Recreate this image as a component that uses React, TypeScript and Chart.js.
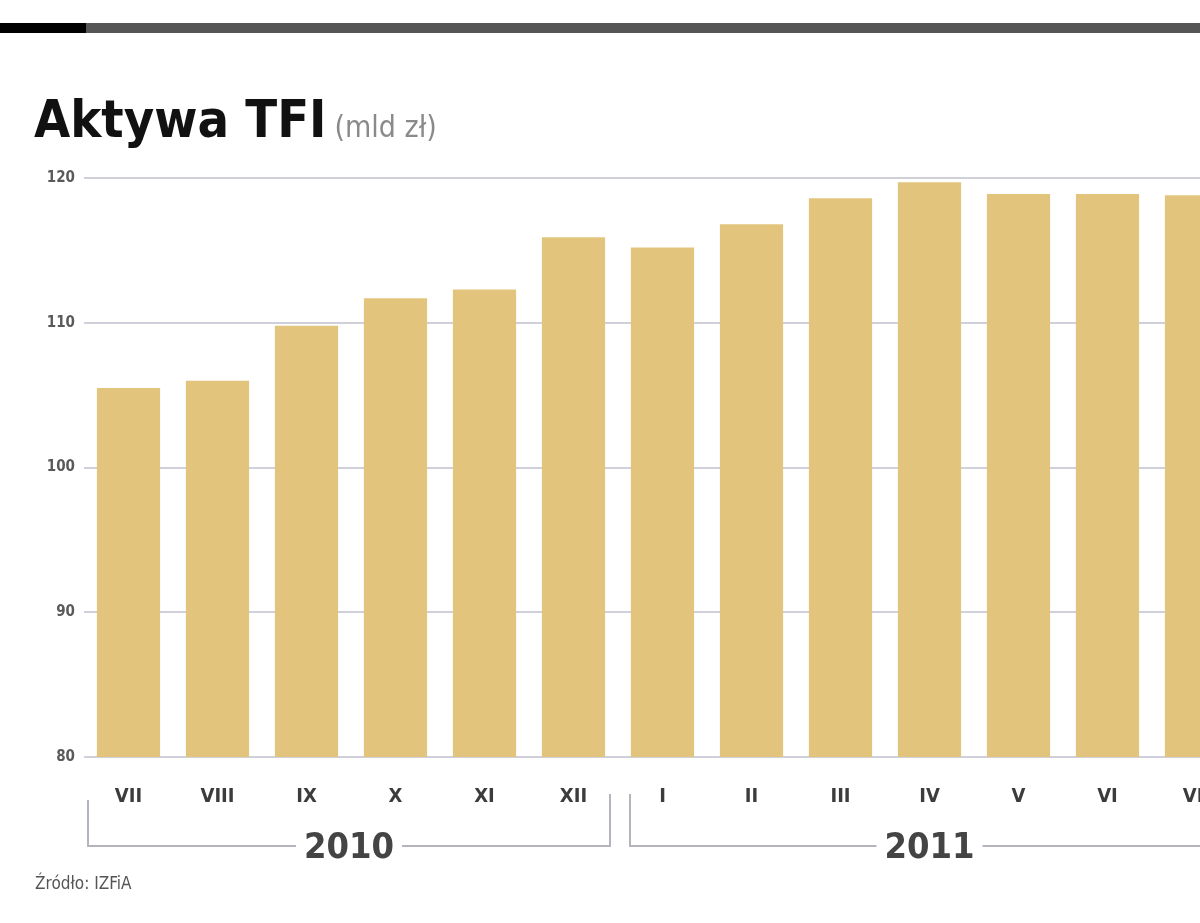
import React, { useEffect, useRef } from "react";
import { Chart, registerables } from "chart.js";

Chart.register(...registerables);

const months = ["VII", "VIII", "IX", "X", "XI", "XII", "I", "II", "III", "IV", "V", "VI", "VII"];
const assets = [105.5, 106.0, 109.8, 111.7, 112.3, 115.9, 115.2, 116.8, 118.6, 119.7, 118.9, 118.9, 118.8];
const years = [
  { label: "2010", from: 0, to: 5 },
  { label: "2011", from: 6, to: 12 },
];
const yTicks = [80, 90, 100, 110, 120];
const titleText = "Aktywa TFI";
const unitText = "(mld zł)";
const sourceText = "Źródło: IZFiA";

const NARROW = '"Liberation Sans Narrow", "DejaVu Sans Condensed", "Liberation Sans", sans-serif';

const decorPlugin = {
  id: "decor",
  afterDraw(chart: any) {
    const ctx = chart.ctx as CanvasRenderingContext2D;
    const x = chart.scales.x;
    ctx.save();
    // top rule
    ctx.fillStyle = "#555555";
    ctx.fillRect(0, 23, chart.width, 10);
    ctx.fillStyle = "#000000";
    ctx.fillRect(0, 23, 86, 10);
    // title
    ctx.textBaseline = "alphabetic";
    ctx.textAlign = "left";
    ctx.fillStyle = "#111111";
    ctx.font = `bold 52px ${NARROW}`;
    ctx.fillText(titleText, 34, 137);
    const tw = ctx.measureText(titleText).width;
    ctx.fillStyle = "#8a8a8a";
    ctx.font = `30px ${NARROW}`;
    ctx.fillText(unitText, 34 + tw + 8, 137);
    // year brackets
    const half = (x.getPixelForValue(1) - x.getPixelForValue(0)) / 2;
    years.forEach((yr, i) => {
      const left = x.getPixelForValue(yr.from) - half + (i === 0 ? 4 : 12);
      const right = x.getPixelForValue(yr.to) + half - (i === years.length - 1 ? 0 : 8);
      const yTop = 800;
      const yLine = 846;
      ctx.strokeStyle = "#b4b4bc";
      ctx.lineWidth = 2;
      ctx.font = `bold 36px ${NARROW}`;
      const cx = i === 0 ? (left + right) / 2 : x.getPixelForValue(9);
      const w = ctx.measureText(yr.label).width;
      ctx.beginPath();
      if (i === 0) {
        ctx.moveTo(left, yTop);
        ctx.lineTo(left, yLine);
      } else {
        ctx.moveTo(left, yTop - 6);
        ctx.lineTo(left, yLine);
      }
      ctx.lineTo(cx - w / 2 - 8, yLine);
      ctx.moveTo(cx + w / 2 + 8, yLine);
      ctx.lineTo(right, yLine);
      if (i === 0) ctx.lineTo(right, yTop - 6);
      ctx.stroke();
      ctx.fillStyle = "#444444";
      ctx.textAlign = "center";
      ctx.textBaseline = "middle";
      ctx.fillText(yr.label, cx, yLine + 3);
    });
    // source
    ctx.textAlign = "left";
    ctx.textBaseline = "middle";
    ctx.fillStyle = "#555555";
    ctx.font = `17px ${NARROW}`;
    ctx.fillText(sourceText, 35, 885);
    ctx.restore();
  },
};

export default function App() {
  const ref = useRef<HTMLCanvasElement | null>(null);
  useEffect(() => {
    if (!ref.current) return;
    const chart = new Chart(ref.current, {
      type: "bar",
      data: {
        labels: months,
        datasets: [
          {
            data: assets,
            backgroundColor: "#e3c47c",
            borderWidth: 0,
            barPercentage: 0.71,
            categoryPercentage: 1,
          },
        ],
      },
      options: {
        animation: false,
        responsive: false,
        events: [],
        layout: { padding: { left: 0, right: 19, top: 178, bottom: 0 } },
        plugins: { legend: { display: false }, tooltip: { enabled: false }, title: { display: false } },
        scales: {
          x: {
            grid: { display: false },
            border: { display: false },
            ticks: {
              color: "#3c3c3c",
              font: { family: NARROW, size: 20, weight: "bold" },
              padding: 20,
              maxRotation: 0,
              autoSkip: false,
            },
            afterFit(scale: any) {
              scale.height = 923 - 757;
            },
          },
          y: {
            min: 80,
            max: 120,
            afterBuildTicks(scale: any) {
              scale.ticks = yTicks.map((v) => ({ value: v }));
            },
            grid: { color: "#d0d0da", lineWidth: 2, drawTicks: false },
            border: { display: false },
            ticks: {
              color: "#5a5a5a",
              font: { family: NARROW, size: 15, weight: "bold" },
              padding: 9,
            },
            afterFit(scale: any) {
              scale.width = 84;
            },
          },
        },
      },
      plugins: [decorPlugin],
    });
    return () => chart.destroy();
  }, []);
  return (
    <div style={{ position: "fixed", left: 0, top: 0, width: 1200, height: 923, overflow: "hidden", background: "#ffffff" }}>
      <canvas ref={ref} width={1260} height={923} style={{ width: 1260, height: 923, display: "block" }} />
    </div>
  );
}
